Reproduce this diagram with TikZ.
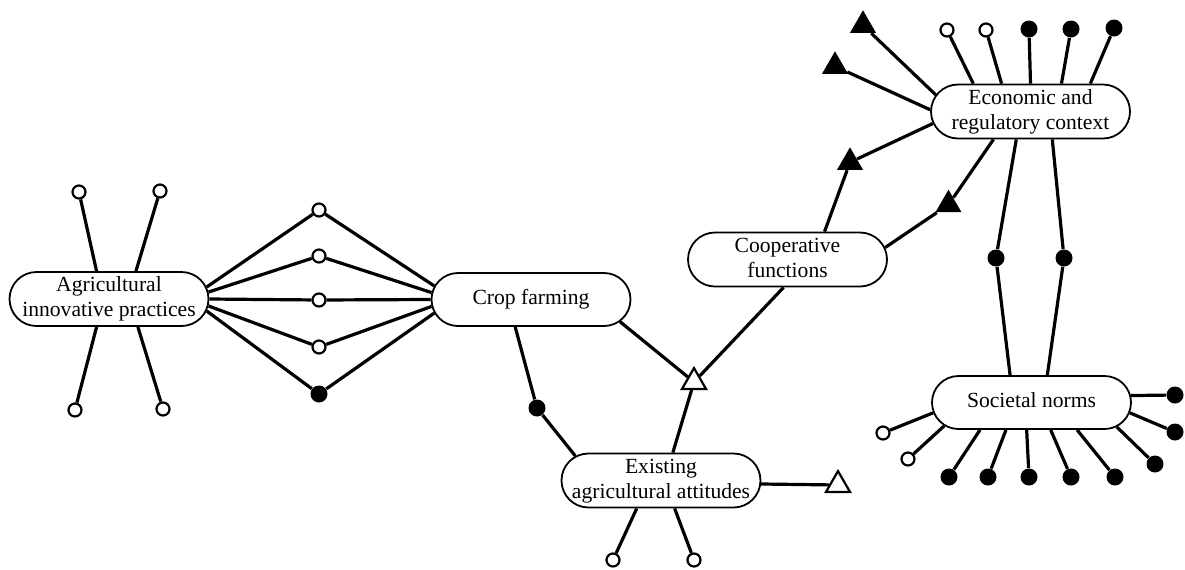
\documentclass[tikz,border=0pt]{standalone}
\usepackage{fontspec}
\setmainfont{Liberation Serif}
\usetikzlibrary{shapes.misc,shapes.geometric,backgrounds}

% text of a topic, kept narrow so the rounded ends do not widen the box
\newcommand\topictext[1]{\makebox[40pt]{\begin{tabular}{@{}c@{}}#1\end{tabular}}}

\tikzset{
  topic/.style={rounded rectangle, draw, fill=white, line width=0.9pt,
    minimum width=99.5pt, minimum height=26.5pt, inner xsep=0pt, inner ysep=1pt,
    font=\fontsize{10.8}{12.5}\selectfont},
  opendot/.style={circle, draw, fill=white, line width=1.1pt, inner sep=0pt, minimum size=6.5pt},
  fulldot/.style={circle, fill=black, inner sep=0pt, minimum size=8.5pt},
  opentri/.style={regular polygon, regular polygon sides=3, draw, fill=white,
    line width=1.1pt, inner sep=0pt, minimum size=13.9pt},
  fulltri/.style={regular polygon, regular polygon sides=3, fill=black,
    inner sep=0pt, minimum size=15pt},
  link/.style={line width=1.6pt}
}

\begin{document}
\begin{tikzpicture}[x=0.5pt,y=-0.5pt]
  \useasboundingbox (0,0) rectangle (1185,569);

  % topics
  \node[topic] (agri)  at (109,299)    {\topictext{Agricultural\\innovative practices}};
  \node[topic] (crop)  at (531,299.5)  {\topictext{Crop farming}};
  \node[topic] (exist) at (661,480.5)  {\topictext{Existing\\agricultural attitudes}};
  \node[topic] (coop)  at (787.5,259.5) {\topictext{Cooperative\\functions}};
  \node[topic] (econ)  at (1030.5,111.5) {\topictext{Economic and\\regulatory context}};
  \node[topic] (soc)   at (1031.5,402.5) {\topictext{Societal norms}};

  % agricultural practices
  \node[opendot] (a1) at (79,192) {};
  \node[opendot] (a2) at (160,191) {};
  \node[opendot] (a3) at (75,410) {};
  \node[opendot] (a4) at (163,409) {};
  \node[opendot] (d1) at (319,210) {};
  \node[opendot] (d2) at (319,256) {};
  \node[opendot] (d3) at (319,300) {};
  \node[opendot] (d4) at (319,347) {};
  \node[fulldot] (d5) at (319,394) {};

  % crop farming and attitudes
  \node[fulldot] (c1) at (537,408) {};
  \node[opentri] (t1) at (694,382) {};
  \node[opentri] (t2) at (838,485) {};
  \node[opendot] (e1) at (613,560) {};
  \node[opendot] (e2) at (694,560) {};

  % cooperative and economic context
  \node[fulltri] (t3) at (850,162.3) {};
  \node[fulltri] (t4) at (948.5,204.7) {};
  \node[fulltri] (t5) at (863,25.3) {};
  \node[fulltri] (t6) at (835,66.3) {};
  \node[opendot] (g1) at (947,30) {};
  \node[opendot] (g2) at (986,30) {};
  \node[fulldot] (g3) at (1029,29) {};
  \node[fulldot] (g4) at (1071,29) {};
  \node[fulldot] (g5) at (1114,28) {};
  \node[fulldot] (m1) at (996,258) {};
  \node[fulldot] (m2) at (1064,258) {};

  % societal norms
  \foreach \n/\x/\y in {1/1175/395, 2/1175/432, 3/1155/464, 4/1115/477,
                        5/1071/477, 6/1029/477, 7/988/477, 8/949/477}
    \node[fulldot] (s\n) at (\x,\y) {};
  \node[opendot] (s9)  at (908,459) {};
  \node[opendot] (s10) at (883,433) {};

  \begin{scope}[on background layer]
    \draw[link] (agri.114) -- (a1);
    \draw[link] (agri.46) -- (a2);
    \draw[link] (agri.246) -- (a3);
    \draw[link] (agri.316) -- (a4);
    \draw[link] (agri.7) -- (d1) -- (crop.172);
    \draw[link] (agri.4) -- (d2) -- (crop.176);
    \draw[link] (agri.0) -- (d3) -- (crop.180);
    \draw[link] (agri.356) -- (d4) -- (crop.184);
    \draw[link] (agri.353) -- (d5) -- (crop.188);

    \draw[link] (crop.240) -- (c1) -- (exist.164);
    \draw[link] (crop.346) -- (t1);
    \draw[link] (t1) -- (coop.262);
    \draw[link] (t1) -- (exist.67);
    \draw[link] (exist.358) -- (t2);
    \draw[link] (exist.229) -- (e1);
    \draw[link] (exist.296) -- (e2);

    \draw[link] (coop.37) -- (t3) -- (econ.187);
    \draw[link] (coop.7) -- (t4) -- (econ.217);
    \draw[link] (econ.170) -- (t5);
    \draw[link] (econ.179) -- (t6);
    \draw[link] (econ.154) -- (g1);
    \draw[link] (econ.136) -- (g2);
    \draw[link] (econ.90) -- (g3);
    \draw[link] (econ.42) -- (g4);
    \draw[link] (econ.25) -- (g5);
    \draw[link] (econ.243) -- (m1) -- (soc.128);
    \draw[link] (econ.308) -- (m2) -- (soc.60);

    \foreach \n/\a in {1/4, 2/354, 3/344, 4/329, 5/305, 6/260, 7/227,
                       8/208, 9/195, 10/186}
      \draw[link] (soc.\a) -- (s\n);
  \end{scope}
\end{tikzpicture}
\end{document}
